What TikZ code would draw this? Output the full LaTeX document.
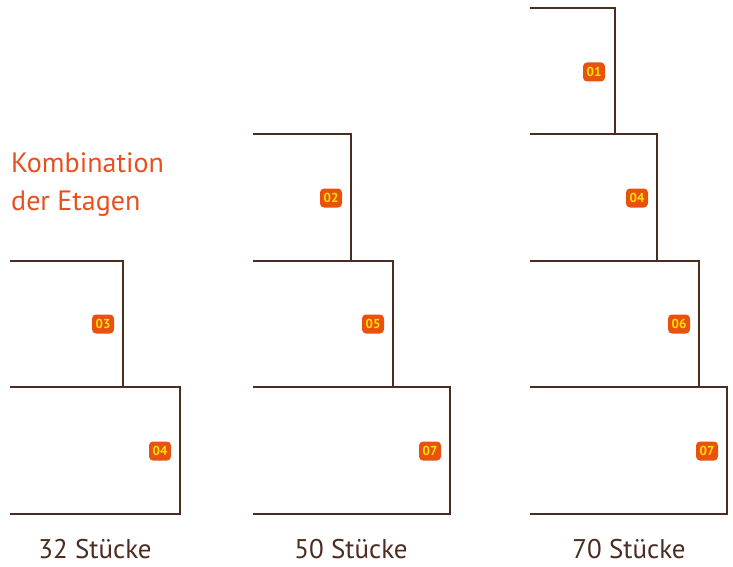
\documentclass[tikz,border=0pt]{standalone}
\usepackage{fontspec}
\setmainfont{PT Sans}
\definecolor{etagenbraun}{HTML}{4A2C20}
\definecolor{etagenrot}{HTML}{E8501E}
\definecolor{badgerot}{HTML}{E8520E}
\definecolor{badgegelb}{HTML}{FFE400}
\tikzset{
  etage/.style={draw=etagenbraun,line width=1.8pt,line join=miter},
  nummer/.style={fill=badgerot,rounded corners=4pt,minimum width=22pt,minimum height=19pt,inner sep=0pt,
    text=badgegelb,font=\fontsize{13}{13}\selectfont\bfseries},
  stueck/.style={anchor=base,text=etagenbraun,font=\fontsize{27}{27}\selectfont}
}
\begin{document}
\begin{tikzpicture}[x=1pt,y=-1pt]
                                \useasboundingbox (0,0) rectangle (733,567);
                                % Titel
                                \node[anchor=base west,text=etagenrot,font=\fontsize{28}{38}\selectfont,align=left,inner sep=0pt] (titel) at (11,210) {Kombination\\der Etagen};
                                % 32 Stuecke
                                \draw[etage] (10,261) -- (123,261) -- (123,387);
                                \draw[etage] (10,387) -- (180,387) -- (180,514) -- (10,514);
                                \node[nummer] (a03) at (103,324) {03};
                                \node[nummer] (a04) at (160,451) {04};
                                \node[stueck] (s32) at (95,558) {32 Stücke};
                                % 50 Stuecke
                                \draw[etage] (253,134) -- (351,134) -- (351,261);
                                \draw[etage] (253,261) -- (393,261) -- (393,387);
                                \draw[etage] (253,387) -- (450,387) -- (450,514) -- (253,514);
                                \node[nummer] (b02) at (331,198) {02};
                                \node[nummer] (b05) at (373,324) {05};
                                \node[nummer] (b07) at (430,451) {07};
                                \node[stueck] (s50) at (351,558) {50 Stücke};
                                % 70 Stuecke
                                \draw[etage] (530,8) -- (615,8) -- (615,134);
                                \draw[etage] (530,134) -- (657,134) -- (657,261);
                                \draw[etage] (530,261) -- (699,261) -- (699,387);
                                \draw[etage] (530,387) -- (727,387) -- (727,514) -- (530,514);
                                \node[nummer] (c01) at (594,72) {01};
                                \node[nummer] (c04) at (637,198) {04};
                                \node[nummer] (c06) at (679,324) {06};
                                \node[nummer] (c07) at (707,451) {07};
                                \node[stueck] (s70) at (629,558) {70 Stücke};
\end{tikzpicture}
\end{document}
